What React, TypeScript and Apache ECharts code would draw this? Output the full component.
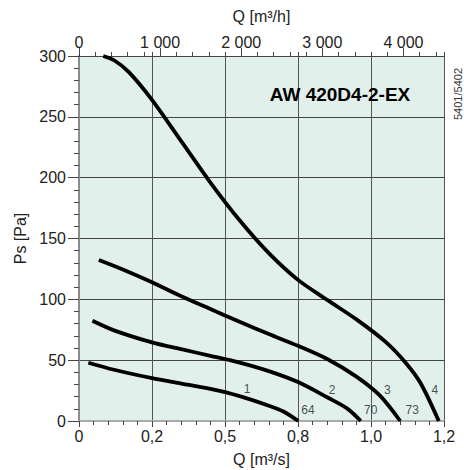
import React, { useEffect, useRef } from "react";
import * as echarts from "echarts";

// Curve data: Q [m³/s] and Ps [Pa]
const curve1Q = [0.032, 0.12, 0.25, 0.35, 0.45, 0.55, 0.65, 0.7, 0.751];
const curve1P = [47.9, 42.1, 35.2, 30.8, 26.4, 20.5, 12.6, 7.8, 0];
const curve2Q = [0.046, 0.12, 0.25, 0.35, 0.45, 0.55, 0.65, 0.75, 0.85, 0.92, 0.965];
const curve2P = [82.4, 74.5, 64.6, 59, 53.6, 48, 41, 32, 19.5, 10, 0];
const curve3Q = [0.068, 0.15, 0.25, 0.35, 0.45, 0.55, 0.65, 0.75, 0.85, 0.95, 1.03, 1.1];
const curve3P = [132.3, 124.5, 114, 102.5, 92, 81.5, 71.5, 61.8, 51, 36.5, 21, 0];
const curve4Q = [0.083, 0.12, 0.17, 0.25, 0.35, 0.45, 0.55, 0.65, 0.75, 0.85, 0.95, 1.05, 1.12, 1.17, 1.232];
const curve4P = [300, 296.5, 287, 264, 230, 196, 165, 138, 116, 99.5, 83.5, 65, 47.5, 31, 0];

const bottomTickLabels = ["0", "0,2", "0,5", "0,8", "1,0", "1,2"];
const topTickValues = [0, 1000, 2000, 3000, 4000];
const topTickLabels = ["0", "1 000", "2 000", "3 000", "4 000"];

const curveLabels = ["1", "2", "3", "4"];
const curveLabelQ = [0.576, 0.867, 1.056, 1.219];
const curveLabelP = [26, 25.5, 25.5, 25.5];
const effLabels = ["64", "70", "73"];
const effLabelQ = [0.784, 0.999, 1.141];
const effLabelP = [9, 9, 9];

const titleText = "AW 420D4-2-EX";
const codeText = "5401/5402";

const FONT = '"Liberation Sans", Arial, sans-serif';

function zip(q: number[], p: number[]) {
  return q.map((v, i) => [v, p[i]]);
}

export default function App() {
  const ref = useRef<HTMLDivElement>(null);
  useEffect(() => {
    document.body.style.margin = "0";
    if (!ref.current) return;
    const chart = echarts.init(ref.current, null, { renderer: "svg" });
    const curveStyle = { color: "#000", width: 3.8 };
    const lineSeries = [
      zip(curve1Q, curve1P),
      zip(curve2Q, curve2P),
      zip(curve3Q, curve3P),
      zip(curve4Q, curve4P),
    ].map((d) => ({
      type: "line",
      data: d,
      smooth: 0.3,
      symbol: "none",
      lineStyle: curveStyle,
      xAxisIndex: 0,
      yAxisIndex: 0,
      z: 5,
      silent: true,
    }));
    const labelData = [
      ...curveLabels.map((t, i) => ({ value: [curveLabelQ[i], curveLabelP[i]], name: t })),
      ...effLabels.map((t, i) => ({ value: [effLabelQ[i], effLabelP[i]], name: t })),
    ];
    chart.setOption({
      animation: false,
      textStyle: { fontFamily: FONT },
      grid: {
        left: 79,
        right: 20,
        top: 56,
        bottom: 49,
        show: true,
        backgroundColor: "#e2f0ec",
        borderWidth: 0,
        containLabel: false,
        outerBoundsMode: "none",
      },
      xAxis: [
        {
          type: "value",
          position: "bottom",
          min: 0,
          max: 1.25,
          interval: 0.25,
          axisLine: { show: true, onZero: false, lineStyle: { color: "#aaaaaa", width: 2 } },
          axisTick: { show: true, length: 6, lineStyle: { color: "#444" } },
          minorTick: { show: true, splitNumber: 5, length: 4, lineStyle: { color: "#444" } },
          axisLabel: {
            margin: 7,
            fontSize: 16,
            color: "#222",
            fontFamily: FONT,
            formatter: (v: number) => bottomTickLabels[Math.round(v / 0.25)] ?? "",
          },
          splitLine: { show: true, lineStyle: { color: "#555", width: 1 } },
          name: "Q [m³/s]",
          nameLocation: "middle",
          nameGap: 30,
          nameTextStyle: { fontSize: 16, color: "#222", fontFamily: FONT },
        },
        {
          type: "value",
          position: "top",
          min: 0,
          max: 4500,
          interval: 200,
          axisLine: { show: true, onZero: false, lineStyle: { color: "#444", width: 1 } },
          axisTick: { show: true, length: 4, lineStyle: { color: "#444" } },
          axisLabel: { show: false },
          splitLine: { show: false },
        },
        {
          type: "value",
          position: "top",
          min: 0,
          max: 4500,
          interval: 1000,
          axisLine: { show: false, onZero: false },
          axisTick: { show: true, length: 8, customValues: topTickValues, lineStyle: { color: "#444" } },
          axisLabel: {
            margin: 6,
            fontSize: 16,
            color: "#222",
            fontFamily: FONT,
            customValues: topTickValues,
            formatter: (v: number) => {
              const i = topTickValues.indexOf(v);
              return i >= 0 ? topTickLabels[i] : "";
            },
          },
          splitLine: { show: false },
          name: "Q [m³/h]",
          nameLocation: "middle",
          nameGap: 32,
          nameTextStyle: { fontSize: 16, color: "#222", fontFamily: FONT },
        },
        {
          type: "value",
          position: "top",
          min: 0,
          max: 1.25,
          interval: 0.25,
          axisLine: { show: false, onZero: false },
          axisTick: { show: true, length: 4, lineStyle: { color: "#444" } },
          axisLabel: { show: false },
          splitLine: { show: false },
        },
      ],
      yAxis: [
        {
          type: "value",
          min: 0,
          max: 300,
          interval: 50,
          axisLine: { show: true, onZero: false, lineStyle: { color: "#8c8c8c", width: 2 } },
          axisTick: { show: true, length: 11, lineStyle: { color: "#444" } },
          minorTick: { show: true, splitNumber: 5, length: 5, lineStyle: { color: "#444" } },
          axisLabel: { margin: 13, fontSize: 16, color: "#222", fontFamily: FONT },
          splitLine: { show: true, lineStyle: { color: "#444", width: 1 } },
          name: "Ps [Pa]",
          nameLocation: "middle",
          nameGap: 44,
          nameTextStyle: { fontSize: 16, color: "#222", fontFamily: FONT },
        },
      ],
      series: [
        ...lineSeries,
        {
          type: "scatter",
          xAxisIndex: 0,
          yAxisIndex: 0,
          symbolSize: 0,
          data: labelData,
          z: 6,
          silent: true,
          label: {
            show: true,
            position: "inside",
            formatter: (p: any) => p.name,
            fontSize: 12,
            color: "#222",
            fontFamily: FONT,
          },
        },
      ],
      graphic: [
        {
          type: "text",
          x: 340,
          y: 94,
          z: 10,
          style: {
            text: titleText,
            fontSize: 19,
            fontWeight: "bold",
            fontFamily: FONT,
            fill: "#000",
            align: "center",
            verticalAlign: "middle",
          },
        },
        {
          type: "text",
          x: 458,
          y: 94,
          rotation: Math.PI / 2,
          z: 10,
          style: {
            text: codeText,
            fontSize: 11,
            fontFamily: FONT,
            fill: "#333",
            align: "center",
            verticalAlign: "middle",
          },
        },
      ],
    });
    return () => chart.dispose();
  }, []);
  return <div ref={ref} style={{ width: 464, height: 470 }} />;
}
